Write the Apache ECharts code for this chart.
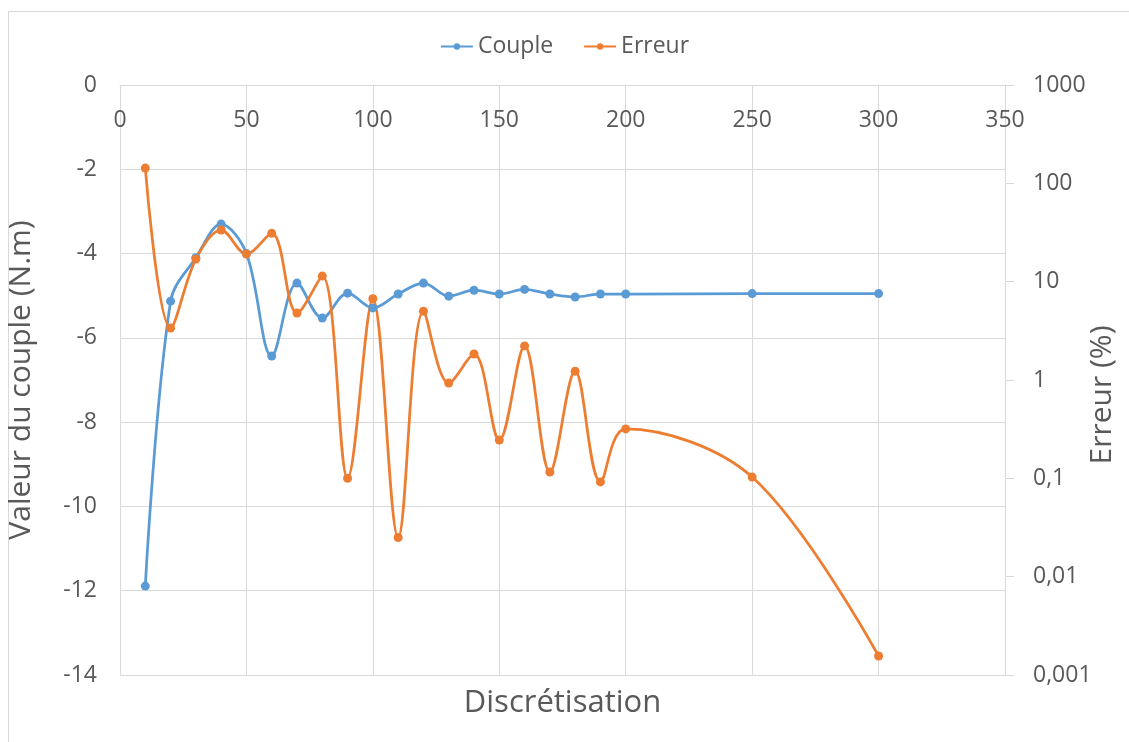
<!DOCTYPE html>
<html>
<head>
<meta charset="utf-8">
<script src="https://cdn.jsdelivr.net/npm/echarts@6/dist/echarts.min.js"></script>
<style>
html,body{margin:0;padding:0;background:#fff;overflow:hidden;}
#chart{width:1129px;height:742px;}
</style>
</head>
<body>
<div id="chart"></div>
<script>
const discretisation = [10,20,30,40,50,60,70,80,90,100,110,120,130,140,150,160,170,180,190,200,250,300];
const couple = [-11.89,-5.13,-4.1,-3.3,-4.0,-6.43,-4.7,-5.53,-4.94,-5.29,-4.96,-4.7,-5.01,-4.87,-4.96,-4.85,-4.96,-5.03,-4.96,-4.96,-4.95,-4.95];
const erreur = [143,3.38,17,33.5,19.1,31,4.8,11.4,0.10,6.7,0.025,5.0,0.93,1.84,0.245,2.22,0.116,1.23,0.092,0.318,0.103,0.00156];
const seriesNames = ['Couple','Erreur'];
const axisTitles = {x:'Discrétisation', left:'Valeur du couple (N.m)', right:'Erreur (%)'};

const FONT = '"Open Sans", sans-serif';
const TXT = '#595959';
const GRID = '#d9d9d9';

const chart = echarts.init(document.getElementById('chart'), null, {renderer:'canvas'});
chart.setOption({
  animation:false,
  backgroundColor:'#fff',
  textStyle:{fontFamily:FONT},
  legend:{
    data:seriesNames,
    top:30, left:'center',
    itemWidth:32, itemHeight:8, itemGap:30,
    textStyle:{fontFamily:FONT,fontSize:23,color:TXT}
  },
  grid:{left:120,right:124,top:85,bottom:67,containLabel:false,outerBoundsMode:'none'},
  xAxis:{
    type:'value', position:'top', min:0, max:350, interval:50,
    axisLine:{show:true,lineStyle:{color:GRID,width:1}},
    axisTick:{show:false},
    axisLabel:{inside:true,margin:24,fontFamily:FONT,fontSize:23,color:TXT},
    splitLine:{show:true,lineStyle:{color:GRID,width:1}}
  },
  yAxis:[{
    type:'value', min:-14, max:0, interval:2, position:'left',
    name:axisTitles.left, nameLocation:'middle', nameGap:84,
    nameTextStyle:{fontFamily:FONT,fontSize:30,color:TXT},
    axisLine:{show:false}, axisTick:{show:false},
    axisLabel:{margin:23,fontFamily:FONT,fontSize:23,color:TXT},
    splitLine:{show:true,lineStyle:{color:GRID,width:1}}
  },{
    type:'log', logBase:10, min:0.001, max:1000, interval:1, position:'right',
    axisLine:{show:true,lineStyle:{color:GRID,width:1}},
    axisTick:{show:true,length:9,lineStyle:{color:GRID}},
    axisLabel:{margin:28,align:'left',fontFamily:FONT,fontSize:23,color:TXT,
      formatter:function(v){return String(+v.toPrecision(6)).replace('.',',');}},
    splitLine:{show:false}
  }],
  graphic:[
    {type:'rect',shape:{x:8.5,y:11.5,width:1200,height:800},style:{fill:'none',stroke:GRID,lineWidth:1},silent:true,z:-10},
    {type:'text',x:562.5,y:703,style:{text:axisTitles.x,font:'31px "Open Sans", sans-serif',fill:TXT,align:'center',verticalAlign:'middle'}},
    {type:'text',x:1102,y:395,rotation:Math.PI/2,style:{text:axisTitles.right,font:'30px "Open Sans", sans-serif',fill:TXT,align:'center',verticalAlign:'middle'}}
  ],
  series:[{
    name:seriesNames[0], type:'line', yAxisIndex:0, smooth:0.35,
    data:discretisation.map((x,i)=>[x,couple[i]]),
    symbol:'circle', symbolSize:9,
    itemStyle:{color:'#5B9BD5'},
    lineStyle:{color:'#5B9BD5',width:2.75}
  },{
    name:seriesNames[1], type:'line', yAxisIndex:1, smooth:0.35,
    data:discretisation.map((x,i)=>[x,erreur[i]]),
    symbol:'circle', symbolSize:9,
    itemStyle:{color:'#ED7D31'},
    lineStyle:{color:'#ED7D31',width:2.75}
  }]
});
</script>
</body>
</html>
